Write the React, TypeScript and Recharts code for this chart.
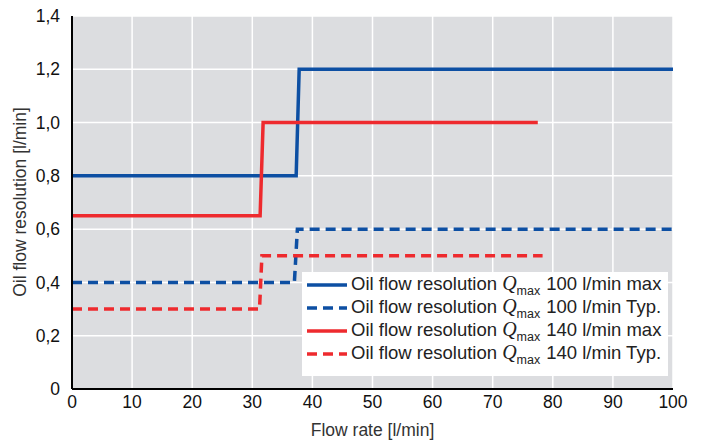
import React from 'react'
import { LineChart, Line, XAxis, YAxis, CartesianGrid } from 'recharts'

const xTicks = [0, 10, 20, 30, 40, 50, 60, 70, 80, 90, 100]
const yTicks = [0, 0.2, 0.4, 0.6, 0.8, 1.0, 1.2, 1.4]

const blueMax = [
  { x: 0, y: 0.8 },
  { x: 37.3, y: 0.8 },
  { x: 37.8, y: 1.2 },
  { x: 100, y: 1.2 },
]
const blueTyp = [
  { x: 0, y: 0.4 },
  { x: 37.0, y: 0.4 },
  { x: 37.5, y: 0.6 },
  { x: 100, y: 0.6 },
]
const redMax = [
  { x: 0, y: 0.65 },
  { x: 31.3, y: 0.65 },
  { x: 31.8, y: 1.0 },
  { x: 77.5, y: 1.0 },
]
const redTyp = [
  { x: 0, y: 0.3 },
  { x: 31.2, y: 0.3 },
  { x: 31.6, y: 0.5 },
  { x: 78.3, y: 0.5 },
]

const BLUE = '#0d4fa3'
const RED = '#ee2a2e'
const FONT = 'Liberation Sans, Arial, sans-serif'

const series = [
  { name: '100 l/min max', data: blueMax, color: BLUE, dash: undefined },
  { name: '100 l/min Typ.', data: blueTyp, color: BLUE, dash: '10 6' },
  { name: '140 l/min max', data: redMax, color: RED, dash: undefined },
  { name: '140 l/min Typ.', data: redTyp, color: RED, dash: '10 6' },
]

const fmt = (v: number) => (v === 0 ? '0' : v.toFixed(1).replace('.', ','))

function LegendBox() {
  return (
    <div
      style={{
        position: 'absolute',
        left: 302,
        top: 272,
        width: 366,
        height: 104,
        boxSizing: 'border-box',
        background: '#fff',
        padding: '1px 0 0 4px',
        fontFamily: FONT,
        fontSize: 18.5,
        color: '#222',
        lineHeight: '23px',
      }}
    >
      {series.map((s) => (
        <div key={s.name} style={{ display: 'flex', alignItems: 'center', whiteSpace: 'nowrap', height: 23 }}>
          <svg width={42} height={10} style={{ marginRight: 3 }}>
            <line x1={1} y1={5} x2={41} y2={5} stroke={s.color} strokeWidth={3.5} strokeDasharray={s.dash} />
          </svg>
          <span>
            Oil flow resolution{' '}
            <i style={{ fontFamily: 'Liberation Serif, serif', fontSize: 20 }}>Q</i>
            <span style={{ fontSize: 12.5, position: 'relative', top: 5, marginRight: 6 }}>max</span>
            {s.name}
          </span>
        </div>
      ))}
    </div>
  )
}

export default function App() {
  return (
    <div style={{ position: 'absolute', left: 0, top: 0, width: 709, height: 441, background: '#fff' }}>
      <LineChart width={709} height={441} margin={{ top: 16, right: 36, left: 22, bottom: 22 }}>
        <CartesianGrid fill="#dcdde0" stroke="#ffffff" strokeWidth={1.5} />
        <XAxis
          type="number"
          dataKey="x"
          domain={[0, 100]}
          ticks={xTicks}
          interval={0}
          height={30}
          tickLine={false}
          axisLine={{ stroke: '#000', strokeWidth: 2 }}
          tick={{ fill: '#111', fontSize: 17.5, fontFamily: FONT }}
          tickMargin={1}
          label={{
            value: 'Flow rate [l/min]',
            position: 'insideBottom',
            offset: -17,
            fill: '#333',
            fontSize: 17.5,
            fontFamily: FONT,
          }}
        />
        <XAxis xAxisId="top" orientation="top" type="number" domain={[0, 100]} height={0} tick={false} tickLine={false} axisLine={{ stroke: '#000', strokeWidth: 2 }} />
        <YAxis
          type="number"
          dataKey="y"
          domain={[0, 1.4]}
          ticks={yTicks}
          interval={0}
          width={50}
          tickLine={false}
          axisLine={{ stroke: '#000', strokeWidth: 2 }}
          tickFormatter={fmt}
          tick={{ fill: '#111', fontSize: 17.5, fontFamily: FONT }}
          tickMargin={6}
        />
        <YAxis yAxisId="right" orientation="right" type="number" domain={[0, 1.4]} width={0} tick={false} tickLine={false} axisLine={{ stroke: '#000', strokeWidth: 2 }} />
        {series.map((s) => (
          <Line
            key={s.name}
            data={s.data}
            dataKey="y"
            type="linear"
            stroke={s.color}
            strokeWidth={3.5}
            strokeDasharray={s.dash}
            dot={false}
            activeDot={false}
            isAnimationActive={false}
          />
        ))}
      </LineChart>
      <div
        style={{
          position: 'absolute',
          left: 20,
          top: 202,
          transform: 'translate(-50%, -50%) rotate(-90deg)',
          whiteSpace: 'nowrap',
          fontFamily: FONT,
          fontSize: 17.5,
          color: '#333',
        }}
      >
        Oil flow resolution [l/min]
      </div>
      <LegendBox />
    </div>
  )
}
